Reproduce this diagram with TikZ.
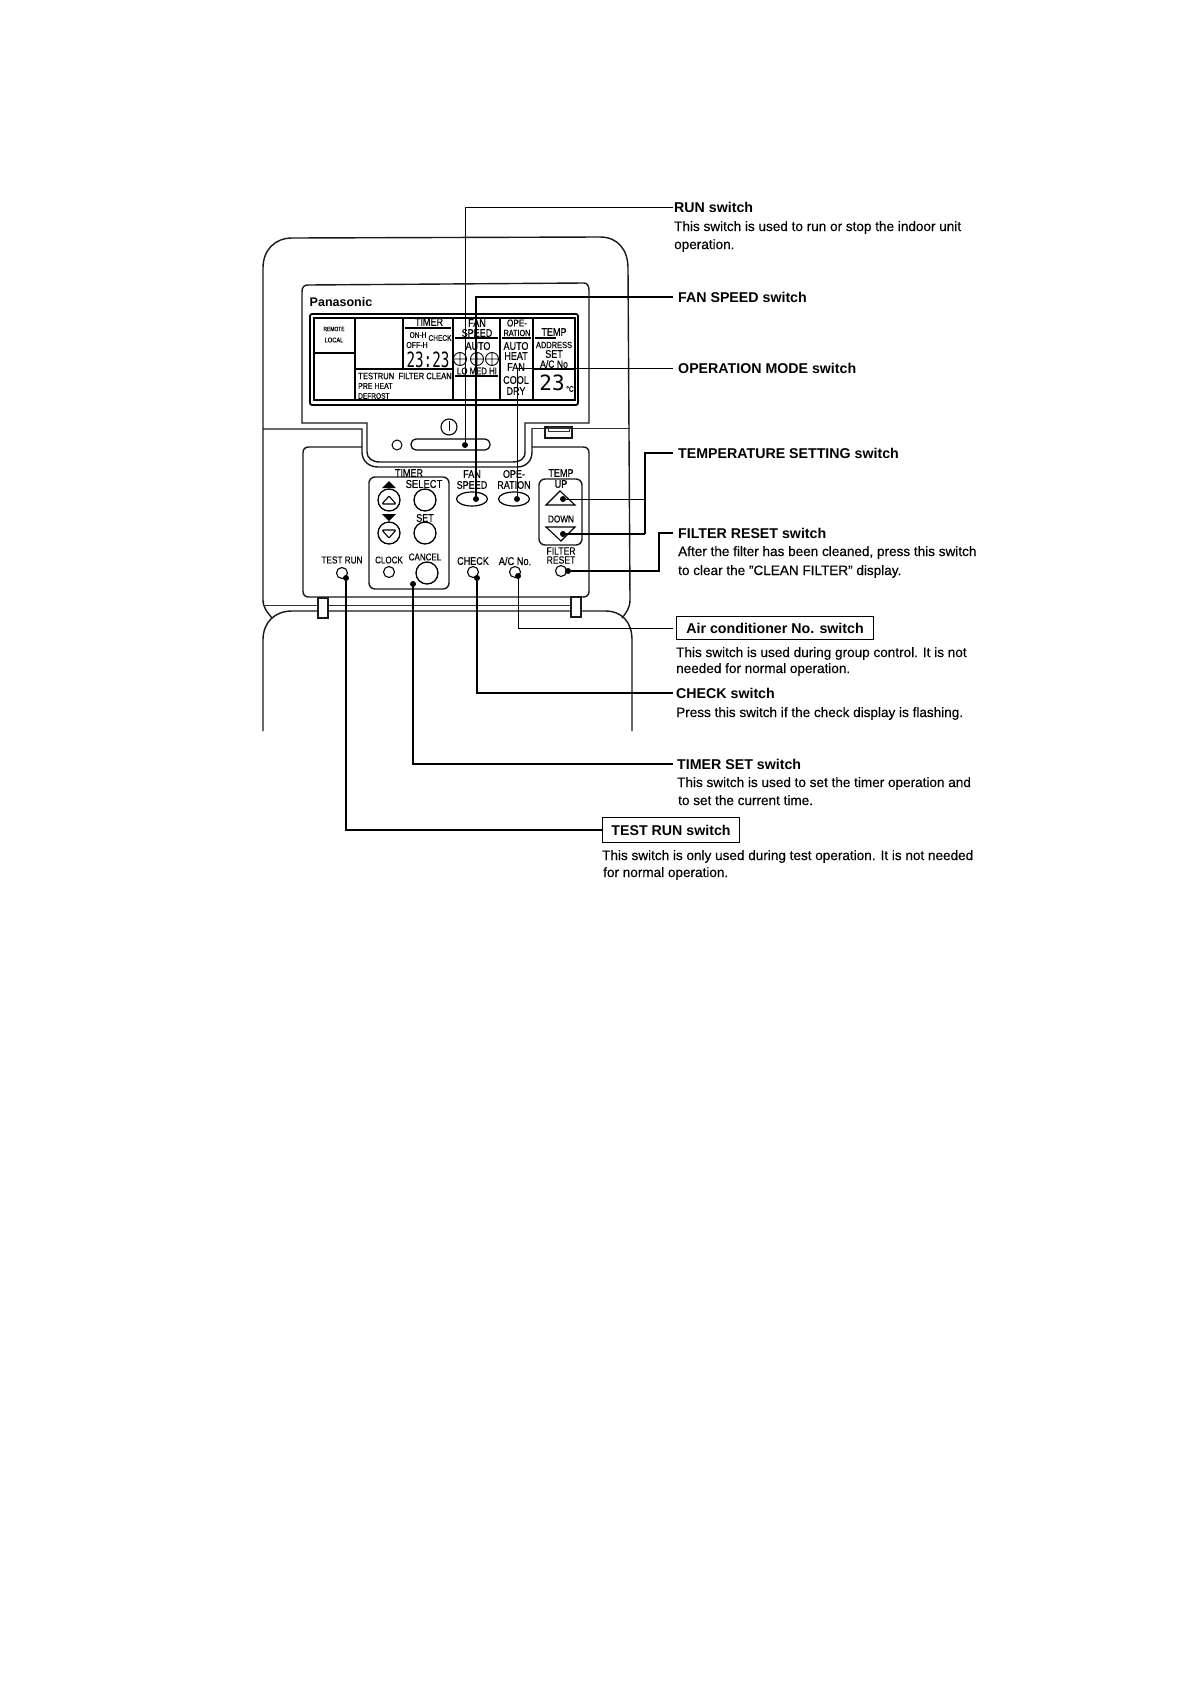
\documentclass[tikz,border=0pt]{standalone}
\usepackage{fontspec}
\usetikzlibrary{shapes.geometric}
\setmainfont{Liberation Sans}[UprightFeatures={FakeBold=0.25}]
\newfontfamily\lcd{DejaVu Sans Mono}
\newfontfamily\cond{Liberation Sans}[FakeStretch=0.82,FakeBold=0.3]
\newcommand\cf[1]{\cond\fontsize{#1}{#1}\selectfont}
\tikzset{
  ln/.style={line width=1.4pt,black!90},
  thn/.style={line width=0.7pt,black!80},
  tn/.style={inner sep=0pt,font=\cf{11}},
  dt/.style={circle,fill=black,inner sep=0pt,minimum size=6pt},
  btn/.style={circle,draw,line width=1.3pt,inner sep=0pt,minimum size=22pt},
  sm/.style={circle,draw,line width=1.1pt,inner sep=0pt,minimum size=11pt},
  el/.style={ellipse,draw,line width=1.2pt,inner sep=0pt,minimum width=31pt,minimum height=14pt},
  head/.style={anchor=west,inner xsep=1pt,inner ysep=0pt,text height=10pt,text depth=0pt,font=\fontsize{14.2}{16}\selectfont\bfseries},
  headb/.style={head,inner xsep=5pt},
  desc/.style={anchor=west,inner sep=0pt,text height=10pt,text depth=0pt,font=\fontsize{13.55}{15}\selectfont},
  boxh/.style={anchor=west,draw,line width=1.1pt,inner xsep=0pt,inner ysep=0pt,text height=10pt,text depth=0pt,font=\fontsize{14.2}{16}\selectfont\bfseries},
  con/.style={line width=1.4pt},
  conmid/.style={line width=1.1pt},
  conthin/.style={line width=0.7pt}
}
\begin{document}
\begin{tikzpicture}[x=1pt,y=-1pt]
\useasboundingbox (0,0) rectangle (1190,1684);
\fill[white] (0,0) rectangle (1190,1684);
% bodies
\draw[ln] (263,600) -- (263,268) .. controls (263,250) and (275,238) .. (292,238) -- (600,237) .. controls (618,237) and (628,250) .. (628,268) -- (630,600) .. controls (630,608) and (626,613) .. (622,618);
\draw[ln] (263,600) .. controls (263,608) and (268,613) .. (272,618);
\draw[ln] (263,731) -- (263,640) .. controls (263,622) and (275,611) .. (292,611) -- (605,611) .. controls (622,611) and (632,622) .. (632,640) -- (632,731);
\draw[thn] (263,605) -- (571,605);
\draw[ln,fill=white] (318,598) rectangle (328,618);
\draw[ln,fill=white] (571,597) rectangle (581,617);
% upper panel
\draw[ln] (302,423) -- (302,292) .. controls (302,287) and (304,285) .. (308,285) -- (584,283) .. controls (587,283) and (589,286) .. (589,290) -- (589,423) -- (525,423) -- (525,452) .. controls (525,459) and (520,462) .. (513,462) -- (380,462) .. controls (372,462) and (367,458) .. (367,452) -- (367,423) -- cycle;
\draw[ln] (263,429) -- (362,429) -- (362,452) .. controls (362,461) and (369,467) .. (378,467) -- (517,467) .. controls (526,467) and (532,461) .. (532,452) -- (532,428);
\draw[thn] (532,428) -- (630,428);
\draw[ln] (545,427) rectangle (572,438);
\draw[thn] (548,427) rectangle (569,431);
\node[anchor=center,inner sep=0pt,font=\fontsize{12.5}{14}\selectfont\bfseries] (brand) at (341,302) {Panasonic};
% display
\draw[line width=1.7pt,rounded corners=2pt] (310,314) rectangle (578,405);
\draw[line width=1.2pt] (314,318) rectangle (575,400);
\draw[line width=1.1pt] (355,318) -- (355,400) (314,353) -- (355,353) (403,318) -- (403,369) (355,369) -- (453,369) (453,318) -- (453,400) (500,318) -- (500,400) (533,318) -- (533,400) (533,369) -- (575,369) (405,328) -- (451,328) (455,338) -- (498,338) (502,338) -- (531,338) (535,338) -- (556,338) (455,376) -- (498,376);
\node[inner sep=0pt,font=\cf{6}] (t1) at (334,329) {REMOTE};
\node[inner sep=0pt,font=\cf{7}] (t2) at (334,340) {LOCAL};
\node[tn] (t3) at (429,322) {TIMER};
\node[tn,font=\cf{8}] (t4) at (418,335) {ON-H};
\node[tn,font=\cf{8}] (t5) at (440,338) {CHECK};
\node[tn,font=\cf{8.5}] (t6) at (417,345) {OFF-H};
\node[inner sep=0pt,font=\lcd\fontsize{21}{22}\selectfont] (t7) at (428,360) {\scalebox{0.68}[1]{23:23}};
\node[tn,font=\cf{9.3}] (t8) at (405,376) {TESTRUN\ \ FILTER CLEAN};
\node[tn,anchor=west,font=\cf{8.5}] (t9) at (358,386) {PRE HEAT};
\node[tn,anchor=west,font=\cf{8}] (t10) at (358,396) {DEFROST};
\node[tn] (t11) at (477,323) {FAN};
\node[tn] (t12) at (477,333) {SPEED};
\node[tn] (t13) at (478,346) {AUTO};
\draw[line width=0.9pt] (460,359) circle (6.5) (477,359) circle (6.5) (492,359) circle (6.5) (453.5,359) -- (466.5,359) (460,352.5) -- (460,365.5) (470.5,359) -- (483.5,359) (477,352.5) -- (477,365.5) (485.5,359) -- (498.5,359) (492,352.5) -- (492,365.5);
\node[tn,font=\cf{9.5}] (t14) at (477,371) {LO MED HI};
\node[tn,font=\cf{10}] (t15) at (517,323) {OPE-};
\node[tn,font=\cf{8.8}] (t16) at (517,333) {RATION};
\node[tn] (t17) at (516,346) {AUTO};
\node[tn] (t18) at (516,356) {HEAT};
\node[tn] (t19) at (516,367) {FAN};
\node[tn] (t20) at (516,380) {COOL};
\node[tn] (t21) at (516,391) {DRY};
\node[tn] (t22) at (554,332) {TEMP};
\node[tn,font=\cf{9.1}] (t23) at (554,345) {ADDRESS};
\node[tn] (t24) at (554,354) {SET};
\node[tn,font=\cf{10.5}] (t25) at (554,364) {A/C No};
\node[inner sep=0pt,font=\lcd\fontsize{21}{22}\selectfont] (t26) at (552,383) {23};
\node[inner sep=0pt,font=\cf{8}] (t27) at (570,389) {°C};
% run area
\node[circle,draw,line width=1.1pt,inner sep=0pt,minimum size=16pt] (pw) at (449,427) {};
\draw[line width=0.9pt] (pw.north) ++(0,3) -- ++(0,10);
\node[circle,draw,line width=1pt,inner sep=0pt,minimum size=10pt] (lamp) at (397,445) {};
\draw[line width=1.2pt,rounded corners=5pt] (411,439) rectangle (490,450);
% lower panel
\draw[ln] (362,447) -- (309,447) .. controls (305,447) and (303,449) .. (303,453) -- (303,591) .. controls (303,595) and (305,597) .. (309,597) -- (583,597) .. controls (587,597) and (589,595) .. (589,591) -- (589,453) .. controls (589,449) and (587,447) .. (583,447) -- (532,447);
\draw[ln,rounded corners=6pt] (369,477) rectangle (449,589);
\node[tn] (l1) at (409,473) {TIMER};
\fill (382,488) -- (389,481) -- (396,488) -- cycle;
\node[tn,font=\cf{11.5}] (l2) at (424,484) {SELECT};
\node[btn] (b1) at (389,500) {};
\draw[line width=1.1pt,rounded corners=1pt] (382,504) -- (389,496) -- (396,504) -- cycle;
\node[btn] (b2) at (425,500) {};
\fill (382,514) -- (396,514) -- (389,521) -- cycle;
\node[tn] (l3) at (425,518) {SET};
\node[btn] (b3) at (389,533) {};
\draw[line width=1.1pt,rounded corners=1pt] (382,530) -- (396,530) -- (389,538) -- cycle;
\node[btn] (b4) at (425,533) {};
\node[tn,font=\cf{9.8}] (l4) at (389,560) {CLOCK};
\node[sm] (b5) at (389,572) {};
\node[tn,font=\cf{9.8}] (l5) at (425,557) {CANCEL};
\node[btn] (b6) at (427,573) {};
\node[tn] (l6) at (472,474) {FAN};
\node[tn] (l7) at (472,485) {SPEED};
\node[el] (b7) at (472,499) {};
\node[tn] (l8) at (514,474) {OPE-};
\node[tn] (l9) at (514,485) {RATION};
\node[el] (b8) at (514,499) {};
\node[tn] (l10) at (561,473) {TEMP};
\node[tn] (l11) at (561,484) {UP};
\draw[ln,rounded corners=6pt] (539,479) rectangle (582,545);
\draw[line width=1.1pt] (546,505) -- (560,491) -- (575,505) -- cycle;
\node[tn,font=\cf{10}] (l12) at (561,519) {DOWN};
\draw[line width=1.1pt] (546,527) -- (575,527) -- (561,541) -- cycle;
\node[tn,font=\cf{10.5}] (l13) at (561,551) {FILTER};
\node[tn,font=\cf{10.5}] (l14) at (561,560) {RESET};
\node[sm] (b9) at (561,571) {};
\node[tn,font=\cf{10}] (l15) at (342,560) {TEST RUN};
\node[sm] (b10) at (342,573) {};
\node[tn] (l16) at (473,561) {CHECK};
\node[sm] (b11) at (473,572) {};
\node[tn,font=\cf{11.3}] (l17) at (515,561) {A/C No.};
\node[sm] (b12) at (515,572) {};
% dots
\node[dt] (drun) at (465,445) {};
\node[dt] (dfan) at (476,499) {};
\node[dt] (dope) at (517,499) {};
\node[dt] (dup) at (563,499) {};
\node[dt] (ddn) at (563,534) {};
\node[dt] (dfil) at (568,571) {};
\node[dt] (dtest) at (346,578) {};
\node[dt] (dchk) at (477,578) {};
\node[dt] (dac) at (518,576) {};
\node[dt] (dtim) at (413,584) {};
% labels
\node[head] (lrun) at (673,207) {RUN switch};
\node[desc] (drun1) at (674,226) {This switch is used to run or stop the indoor unit};
\node[desc] (drun2) at (674,244) {operation.};
\node[headb] (lfan) at (673,297) {FAN SPEED switch};
\node[headb] (lope) at (673,368) {OPERATION MODE switch};
\node[headb] (ltmp) at (673,453) {TEMPERATURE SETTING switch};
\node[headb] (lfil) at (673,533) {FILTER RESET switch};
\node[desc] (dfil1) at (678,551) {After the filter has been cleaned, press this switch};
\node[desc] (dfil2) at (678,570) {to clear the "CLEAN FILTER" display.};
\node[boxh,minimum width=197pt,minimum height=23pt] (lac) at (676,628) {Air conditioner No. switch\hspace{6pt}};
\node[desc] (dac1) at (676,652) {This switch is used during group control. It is not};
\node[desc] (dac2) at (676,668) {needed for normal operation.};
\node[head,inner xsep=3pt] (lchk) at (673,693) {CHECK switch};
\node[desc] (dchk1) at (676,712) {Press this switch if the check display is flashing.};
\node[head,inner xsep=4pt] (ltim) at (673,764) {TIMER SET switch};
\node[desc] (dtim1) at (677,782) {This switch is used to set the timer operation and};
\node[desc] (dtim2) at (678,800) {to set the current time.};
\node[boxh,minimum width=137pt,minimum height=25pt] (ltst) at (602,830) {TEST RUN switch\hspace{10pt}};
\node[desc] (dtst1) at (602,855) {This switch is only used during test operation. It is not needed};
\node[desc] (dtst2) at (603,872) {for normal operation.};
% connectors
\draw[conthin,line width=0.9pt] (drun) |- (lrun.west);
\draw[con,line width=1.7pt] (dfan) |- (lfan.west);
\draw[conthin] (dope) |- (lope.west);
\coordinate (jt) at (645,453);
\draw[conmid] (ltmp.west) -- (jt) -- (jt |- ddn);
\draw[conthin,line width=0.9pt] (dup) -- (jt |- dup);
\draw[con,line width=1.7pt] (ddn) -- (jt |- ddn);
\coordinate (jf) at (659,533);
\draw[conmid] (dfil) -| (jf) -- (lfil.west);
\draw[conthin,line width=0.9pt,shorten >=3pt] (dac) |- (lac.west);
\draw[con] (dchk) |- (lchk.west);
\draw[conmid] (dtim) |- (ltim.west);
\draw[conmid] (dtest) |- (ltst.west);
\end{tikzpicture}
\end{document}
